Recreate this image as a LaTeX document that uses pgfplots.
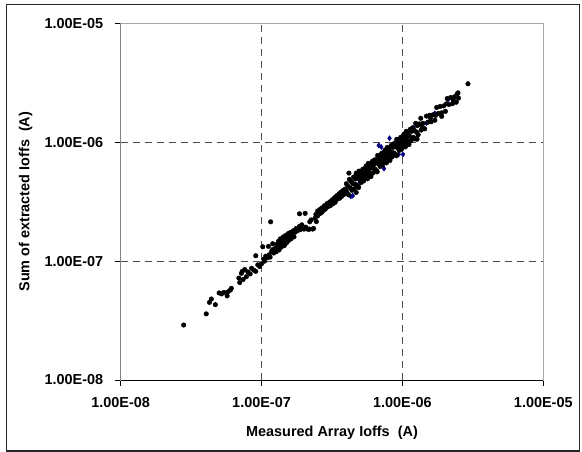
\documentclass[border=0pt]{standalone}
\usepackage{fontspec}
\setmainfont{Liberation Sans}
\usepackage{pgfplots}
\pgfplotsset{compat=1.18}

\begin{document}
\begin{tikzpicture}
\begin{axis}[
  at={(0,0)}, anchor=south west,
  scale only axis, width=422.6bp, height=356.7bp,
  xmode=log, ymode=log,
  xmin=1e-8, xmax=1e-5, ymin=1e-8, ymax=1e-5,
  xtick={1e-8,1e-7,1e-6,1e-5}, ytick={1e-8,1e-7,1e-6,1e-5},
  xticklabels={1.00E-08,1.00E-07,1.00E-06,1.00E-05},
  yticklabels={1.00E-08,1.00E-07,1.00E-06,1.00E-05},
  minor xtick={}, minor ytick={},
  minor tick style={draw=none},
  tick align=outside, tick pos=left, major tick length=6bp,
  tick style={black, line width=0.8bp},
  axis line style={draw=gray!70, line width=0.8bp},
  extra x ticks={1e-7,1e-6}, extra y ticks={1e-7,1e-6},
  extra x tick labels={}, extra y tick labels={},
  extra x tick style={grid=major, major tick length=0pt},
  extra y tick style={grid=major, major tick length=0pt},
  grid style={gray!60!black, line width=0.8bp, dash pattern=on 7bp off 5bp},
  ticklabel style={font=\fontsize{14.5}{17}\selectfont\bfseries},
  xticklabel style={yshift=-8bp},
  yticklabel style={xshift=-8bp},
  label style={font=\fontsize{14.5}{17}\selectfont\bfseries},
  xlabel={Measured Array Ioffs\ \ (A)},
  ylabel={Sum of extracted Ioffs\ \ (A)},
  xlabel style={at={(axis description cs:0.5,-0.1486)}, anchor=center},
  ylabel style={at={(axis description cs:-0.2248,0.5)}, anchor=center},
]
% blue series (mostly hidden under the black one)
\addplot[only marks, mark=diamond*, mark size=2.6bp, color={rgb,255:red,0;green,0;blue,128}] table {
x y
4.3e-7 3.5e-7
4.44e-7 3.55e-7
6.8e-7 9.4e-7
7.08e-7 9.1e-7
8.1e-7 1.08e-6
9.4e-7 7.9e-7
1.01e-6 7.9e-7
7.4e-7 6.0e-7
1.3e-6 1.15e-6
1.48e-6 1.45e-6
2.11e-6 2.28e-6
6.76e-7 7.2e-7
5.5e-7 5.2e-7
5.9e-7 6.4e-7
7.5e-7 7.0e-7
1.05e-6 1.2e-6
1.15e-6 1.05e-6
1.7e-6 1.75e-6
1.6e-6 1.5e-6
2.3e-6 2.2e-6
9.9e-7 8.8e-7
8.8e-7 9.8e-7
3.7e-7 3.6e-7
5.0e-7 4.6e-7
1.2e-6 1.32e-6
};
% black series
\addplot[only marks, mark=*, mark size=2.3bp, black, mark options={draw=black, fill=black}] table {
x y
2.8e-8 2.9e-8
4.05e-8 3.6e-8
4.27e-8 4.5e-8
4.4e-8 4.8e-8
4.7e-8 4.3e-8
5.0e-8 5.4e-8
5.2e-8 5.3e-8
5.4e-8 5.45e-8
5.7e-8 5.1e-8
5.75e-8 5.5e-8
6.0e-8 5.7e-8
6.1e-8 5.9e-8
6.9e-8 7.2e-8
7.0e-8 6.6e-8
7.2e-8 7.9e-8
7.3e-8 8.2e-8
7.4e-8 7.0e-8
7.6e-8 8.5e-8
7.8e-8 7.4e-8
8.0e-8 8.1e-8
8.3e-8 7.8e-8
8.5e-8 8.7e-8
8.8e-8 8.4e-8
9.1e-8 1.11e-7
9.1e-8 8.2e-8
9.4e-8 9.3e-8
9.7e-8 9.0e-8
1.0e-7 9.5e-8
1.02e-7 1.32e-7
1.04e-7 1.04e-7
1.05e-7 1.0e-7
1.07e-7 1.10e-7
1.1e-7 1.07e-7
1.12e-7 1.33e-7
1.13e-7 1.13e-7
1.15e-7 1.08e-7
1.18e-7 1.21e-7
1.2e-7 1.4e-7
1.2e-7 1.25e-7
1.22e-7 1.17e-7
1.16e-7 2.14e-7
1.25e-7 1.28e-7
1.27e-7 1.2e-7
1.28e-7 1.38e-7
1.3e-7 1.3e-7
1.32e-7 1.47e-7
1.33e-7 1.24e-7
1.35e-7 1.38e-7
1.36e-7 1.54e-7
1.38e-7 1.31e-7
1.4e-7 1.47e-7
1.42e-7 1.41e-7
1.43e-7 1.6e-7
1.45e-7 1.35e-7
1.47e-7 1.5e-7
1.48e-7 1.64e-7
1.5e-7 1.42e-7
1.52e-7 1.55e-7
1.54e-7 1.7e-7
1.55e-7 1.48e-7
1.57e-7 1.6e-7
1.6e-7 1.74e-7
1.62e-7 1.54e-7
1.65e-7 1.66e-7
1.68e-7 1.8e-7
1.7e-7 1.6e-7
1.73e-7 1.75e-7
1.76e-7 1.88e-7
1.8e-7 1.8e-7
1.85e-7 1.95e-7
1.86e-7 2.5e-7
1.88e-7 1.84e-7
1.9e-7 1.86e-7
1.93e-7 2.02e-7
2.0e-7 1.86e-7
2.04e-7 2.52e-7
2.06e-7 1.93e-7
2.1e-7 1.87e-7
2.15e-7 1.85e-7
2.19e-7 1.86e-7
2.2e-7 2.14e-7
2.25e-7 2.22e-7
2.3e-7 1.86e-7
2.34e-7 1.88e-7
2.4e-7 2.3e-7
2.43e-7 2.47e-7
2.45e-7 2.15e-7
2.5e-7 2.4e-7
2.5e-7 2.64e-7
2.55e-7 2.5e-7
2.6e-7 2.72e-7
2.63e-7 2.53e-7
2.68e-7 2.8e-7
2.7e-7 2.6e-7
2.75e-7 2.72e-7
2.8e-7 2.93e-7
2.83e-7 2.73e-7
2.88e-7 2.85e-7
2.92e-7 3.05e-7
2.95e-7 2.86e-7
3.0e-7 3.0e-7
3.05e-7 3.15e-7
3.08e-7 2.93e-7
3.12e-7 3.1e-7
3.18e-7 3.28e-7
3.2e-7 3.03e-7
3.25e-7 3.2e-7
3.3e-7 3.42e-7
3.33e-7 3.12e-7
3.38e-7 3.3e-7
3.42e-7 3.55e-7
3.45e-7 3.32e-7
3.5e-7 3.45e-7
3.55e-7 3.68e-7
3.58e-7 3.38e-7
3.62e-7 3.55e-7
3.66e-7 3.8e-7
3.7e-7 3.5e-7
3.74e-7 3.68e-7
3.78e-7 3.92e-7
3.82e-7 3.62e-7
3.86e-7 3.8e-7
3.9e-7 4.02e-7
3.94e-7 3.7e-7
3.98e-7 3.9e-7
4.17e-7 5.5e-7
4.7e-7 5.5e-7
4.7e-7 3.78e-7
9.1e-7 7.8e-7
1.27e-6 1.06e-6
1.25e-6 1.07e-6
4.00e-7 4.48e-7
4.05e-7 3.73e-7
4.10e-7 4.26e-7
4.15e-7 3.61e-7
4.20e-7 4.87e-7
4.26e-7 4.13e-7
4.32e-7 4.67e-7
4.38e-7 3.94e-7
4.44e-7 4.48e-7
4.50e-7 5.09e-7
4.56e-7 4.06e-7
4.62e-7 4.90e-7
4.68e-7 5.24e-7
4.74e-7 4.36e-7
4.80e-7 4.99e-7
4.86e-7 4.23e-7
4.92e-7 5.71e-7
4.98e-7 4.83e-7
5.04e-7 5.44e-7
5.10e-7 4.59e-7
5.16e-7 5.21e-7
5.23e-7 5.91e-7
5.30e-7 4.72e-7
5.37e-7 5.69e-7
5.44e-7 6.09e-7
5.51e-7 5.07e-7
5.58e-7 5.80e-7
5.65e-7 4.92e-7
5.72e-7 6.64e-7
5.79e-7 5.62e-7
5.86e-7 6.33e-7
5.94e-7 5.35e-7
6.02e-7 6.08e-7
6.10e-7 6.89e-7
6.18e-7 5.50e-7
6.26e-7 6.64e-7
6.34e-7 7.10e-7
6.42e-7 5.91e-7
6.50e-7 6.76e-7
6.58e-7 5.72e-7
6.67e-7 7.74e-7
6.76e-7 6.56e-7
6.85e-7 7.40e-7
6.94e-7 6.25e-7
7.03e-7 7.10e-7
7.12e-7 8.05e-7
7.21e-7 6.42e-7
7.30e-7 7.74e-7
7.40e-7 8.29e-7
7.50e-7 6.90e-7
7.60e-7 7.90e-7
7.70e-7 6.70e-7
7.80e-7 9.05e-7
7.90e-7 7.66e-7
8.00e-7 8.64e-7
8.10e-7 7.29e-7
8.21e-7 8.29e-7
8.32e-7 9.40e-7
8.43e-7 7.50e-7
8.54e-7 9.05e-7
8.65e-7 9.69e-7
8.76e-7 8.06e-7
8.87e-7 9.22e-7
8.99e-7 7.82e-7
9.11e-7 1.057e-6
9.23e-7 8.95e-7
9.35e-7 1.01e-6
9.47e-7 8.52e-7
9.59e-7 9.69e-7
9.72e-7 1.098e-6
9.85e-7 8.77e-7
9.98e-7 1.058e-6
1.010e-6 1.131e-6
1.023e-6 9.41e-7
1.036e-6 1.077e-6
1.050e-6 9.14e-7
1.064e-6 1.234e-6
1.078e-6 1.046e-6
1.092e-6 1.179e-6
1.106e-6 9.95e-7
1.120e-6 1.131e-6
1.135e-6 1.283e-6
1.150e-6 1.024e-6
1.165e-6 1.235e-6
1.180e-6 1.322e-6
1.195e-6 1.099e-6
1.210e-6 1.258e-6
1.226e-6 1.067e-6
1.242e-6 1.441e-6
1.258e-6 1.220e-6
1.275e-6 1.377e-6
1.290e-6 1.161e-6
4.65e-7 4.42e-7
4.77e-7 5.20e-7
4.89e-7 4.16e-7
5.01e-7 5.11e-7
5.13e-7 5.69e-7
5.26e-7 4.79e-7
5.40e-7 5.35e-7
5.54e-7 6.32e-7
5.68e-7 5.34e-7
5.82e-7 6.11e-7
5.98e-7 5.14e-7
6.14e-7 6.75e-7
6.30e-7 5.99e-7
6.46e-7 7.04e-7
6.62e-7 5.63e-7
6.80e-7 6.94e-7
6.98e-7 7.75e-7
7.16e-7 6.52e-7
7.35e-7 7.28e-7
7.55e-7 8.61e-7
7.75e-7 7.29e-7
7.95e-7 8.35e-7
8.15e-7 7.01e-7
8.37e-7 9.21e-7
8.60e-7 8.17e-7
8.82e-7 9.61e-7
9.05e-7 7.69e-7
9.29e-7 9.48e-7
9.53e-7 1.058e-6
9.78e-7 8.90e-7
1.004e-6 9.94e-7
1.030e-6 1.174e-6
1.057e-6 9.94e-7
1.085e-6 1.139e-6
1.113e-6 9.57e-7
1.142e-6 1.256e-6
5.07e-7 5.07e-7
5.33e-7 5.12e-7
5.61e-7 5.95e-7
5.90e-7 5.49e-7
6.22e-7 6.41e-7
6.54e-7 7.13e-7
6.90e-7 6.76e-7
7.25e-7 7.25e-7
7.65e-7 7.34e-7
8.05e-7 8.53e-7
8.48e-7 7.89e-7
8.93e-7 9.20e-7
9.40e-7 1.025e-6
9.90e-7 9.70e-7
1.32e-6 1.426e-6
1.36e-6 1.265e-6
1.40e-6 1.442e-6
1.44e-6 1.296e-6
1.48e-6 1.658e-6
1.52e-6 1.474e-6
1.56e-6 1.685e-6
1.60e-6 1.488e-6
1.65e-6 1.70e-6
1.70e-6 1.53e-6
1.75e-6 1.96e-6
1.80e-6 1.746e-6
1.85e-6 1.998e-6
1.90e-6 1.767e-6
1.96e-6 2.019e-6
2.02e-6 1.818e-6
2.08e-6 2.33e-6
2.14e-6 2.076e-6
2.20e-6 2.376e-6
2.27e-6 2.111e-6
2.34e-6 2.41e-6
2.41e-6 2.169e-6
2.48e-6 2.60e-6
1.35e-6 1.59e-6
1.9e-6 1.65e-6
2.5e-6 2.35e-6
2.45e-6 2.55e-6
1.38e-6 1.35e-6
1.58e-6 1.6e-6
1.72e-6 1.68e-6
2.05e-6 2.1e-6
2.3e-6 2.25e-6
2.92e-6 3.1e-6
};
% solid left and bottom axis lines
\draw[gray!50!black, line width=0.8bp] (rel axis cs:0,0) -- (rel axis cs:0,1);
\draw[black, line width=0.8bp] (rel axis cs:0,0) -- (rel axis cs:1,0);
\end{axis}
% outer chart frame
\draw[black!85, line width=1.2bp] (-114bp,-71bp) rectangle (458.5bp,375.5bp);
\pgfresetboundingbox
\path (-120.7bp,-72bp) rectangle (461.3bp,380bp);
\end{tikzpicture}
\end{document}
